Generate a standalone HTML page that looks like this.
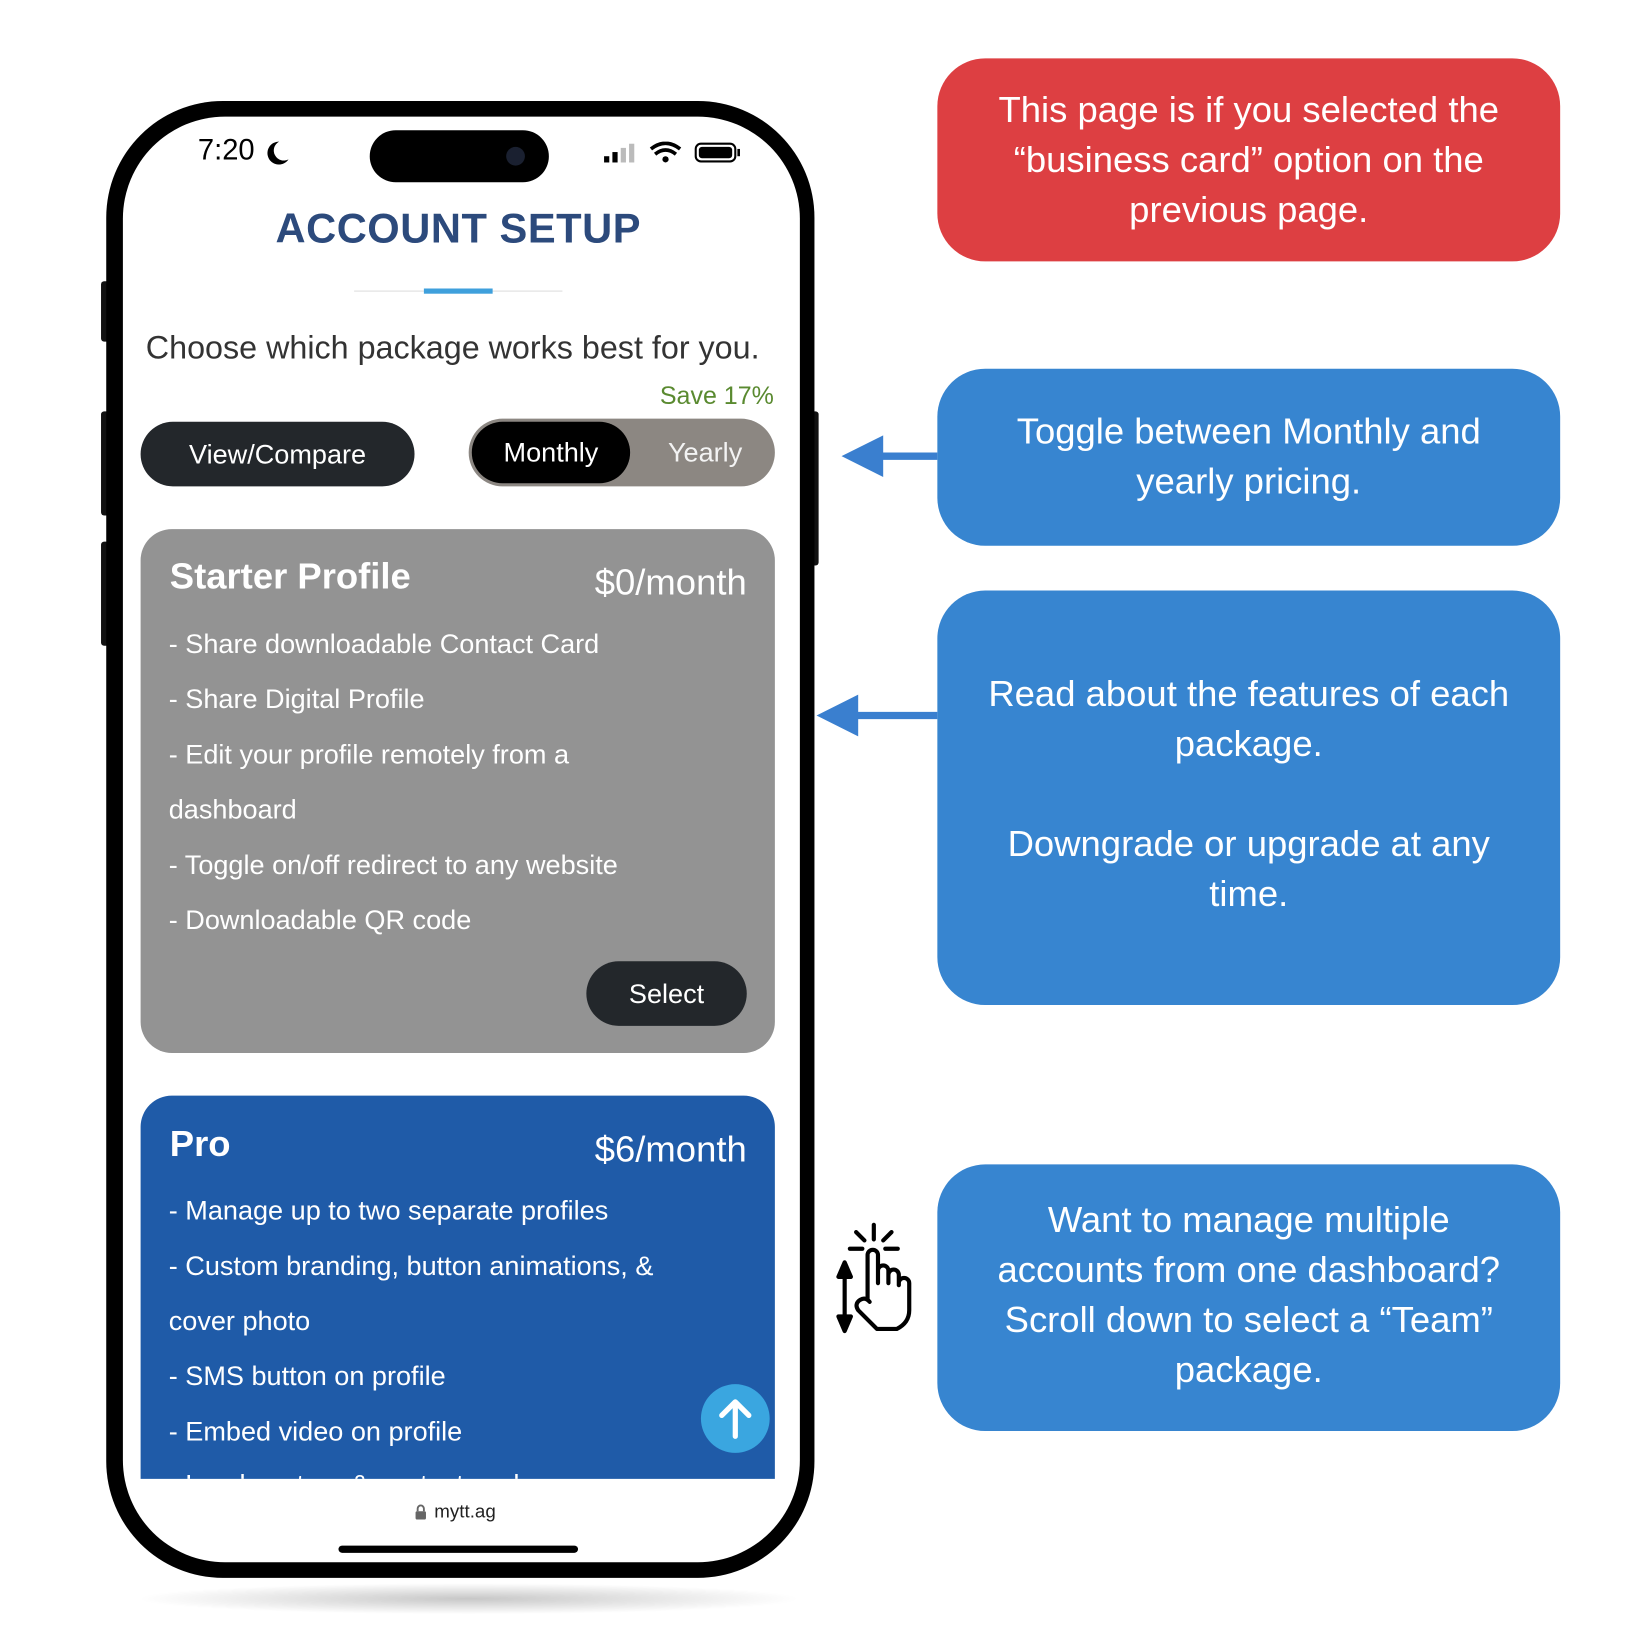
<!DOCTYPE html>
<html><head><meta charset="utf-8"><style>
html,body{margin:0;padding:0;background:#fff;}
body{width:1632px;height:1630px;overflow:hidden;position:relative;font-family:"Liberation Sans",sans-serif;}
#w{position:absolute;left:0;top:0;width:1567px;height:1565px;transform:scale(1.0415);transform-origin:0 0;}
.a{position:absolute;}
.co{position:absolute;left:900px;width:598px;border-radius:46px;color:#fff;font-size:35px;line-height:48px;text-align:center;box-sizing:border-box;}
.li{position:absolute;left:162px;color:#fff;font-size:26px;}
</style></head><body><div id="w">
<div class="a" style="left:130px;top:1520px;width:640px;height:30px;border-radius:50%;background:radial-gradient(ellipse at center,rgba(0,0,0,0.22),rgba(0,0,0,0) 70%);"></div>
<div class="a" style="left:97px;top:270px;width:8px;height:58px;background:#111;border-radius:3px"></div>
<div class="a" style="left:97px;top:395px;width:8px;height:100px;background:#111;border-radius:3px"></div>
<div class="a" style="left:97px;top:520px;width:8px;height:100px;background:#111;border-radius:3px"></div>
<div class="a" style="left:778px;top:395px;width:8px;height:148px;background:#111;border-radius:3px"></div>
<div class="a" style="left:102px;top:97px;width:680px;height:1418px;background:#000;border-radius:112px;"></div>
<div class="a" style="left:118px;top:112px;width:650px;height:1388px;background:#fff;border-radius:98px;overflow:hidden;"></div>
<div class="a" style="left:355px;top:125px;width:172px;height:50px;background:#000;border-radius:25px;"></div>
<div class="a" style="left:486px;top:141px;width:18px;height:18px;background:#1a2030;border-radius:50%;"></div>
<div class="a" style="left:190px;top:128px;font-size:28px;color:#000;">7:20</div>
<svg class="a" style="left:254px;top:134px" width="24" height="26" viewBox="0 0 24 26"><path d="M14 2 A11 11 0 1 0 23 19 A9 9 0 0 1 14 2Z" fill="#000"/></svg>
<svg class="a" style="left:578px;top:136px" width="140" height="22" viewBox="0 0 140 22">
<rect x="2" y="14" width="5" height="6" fill="#000"/><rect x="10" y="10" width="5" height="10" fill="#000"/><rect x="18" y="6" width="5" height="14" fill="#bbb"/><rect x="26" y="2" width="5" height="18" fill="#bbb"/>
<path d="M47 7 Q61 -4 75 7" stroke="#000" stroke-width="3.5" fill="none"/><path d="M51 12 Q61 4 71 12" stroke="#000" stroke-width="3.5" fill="none"/><circle cx="61" cy="17" r="3" fill="#000"/>
<rect x="90" y="2" width="38" height="17" rx="5" fill="none" stroke="#000" stroke-width="2"/><rect x="93" y="5" width="32" height="11" rx="3" fill="#000"/><rect x="130" y="7" width="2.5" height="7" fill="#000"/></svg>
<div class="a" style="left:240px;top:198px;width:400px;text-align:center;font-size:40px;font-weight:bold;color:#2c4a7c;letter-spacing:0.5px;">ACCOUNT SETUP</div>
<div class="a" style="left:340px;top:279px;width:200px;height:1px;background:#ddd;"></div>
<div class="a" style="left:407px;top:277px;width:66px;height:5px;background:#3fa0dc;"></div>
<div class="a" style="left:140px;top:316px;font-size:31px;color:#333;">Choose which package works best for you.</div>
<div class="a" style="left:600px;top:367px;width:143px;text-align:right;font-size:24px;color:#5a8a30;">Save 17%</div>
<div class="a" style="left:135px;top:405px;width:263px;height:62px;border-radius:31px;background:#23272b;color:#fff;font-size:26px;line-height:62px;text-align:center;">View/Compare</div>
<div class="a" style="left:450px;top:402px;width:294px;height:65px;border-radius:33px;background:#8c8782;"></div>
<div class="a" style="left:453px;top:405px;width:152px;height:59px;border-radius:30px;background:#000;color:#fff;font-size:26px;line-height:59px;text-align:center;">Monthly</div>
<div class="a" style="left:610px;top:405px;width:134px;line-height:59px;text-align:center;color:#f3f3f3;font-size:26px;">Yearly</div>
<div class="a" style="left:135px;top:508px;width:609px;height:503px;border-radius:30px;background:#939393;"></div>
<div class="a" style="left:163px;top:534px;font-size:35px;font-weight:bold;color:#fff;">Starter Profile</div>
<div class="a" style="left:450px;top:540px;width:267px;text-align:right;font-size:35px;color:#fff;">$0/month</div>
<div class="li" style="top:603px">- Share downloadable Contact Card</div>
<div class="li" style="top:656px">- Share Digital Profile</div>
<div class="li" style="top:709px">- Edit your profile remotely from a</div>
<div class="li" style="top:762px">dashboard</div>
<div class="li" style="top:815px">- Toggle on/off redirect to any website</div>
<div class="li" style="top:868px">- Downloadable QR code</div>
<div class="a" style="left:563px;top:923px;width:154px;height:62px;border-radius:31px;background:#23272b;color:#fff;font-size:26px;line-height:62px;text-align:center;">Select</div>
<div class="a" style="left:135px;top:1052px;width:609px;height:368px;border-radius:30px 30px 0 0;background:#1f5ba8;overflow:hidden;">
<div class="li" style="left:27px;top:358px">- Lead capture &amp; contact exchange</div></div>
<div class="a" style="left:163px;top:1079px;font-size:35px;font-weight:bold;color:#fff;">Pro</div>
<div class="a" style="left:450px;top:1084px;width:267px;text-align:right;font-size:35px;color:#fff;">$6/month</div>
<div class="li" style="top:1147px">- Manage up to two separate profiles</div>
<div class="li" style="top:1200px">- Custom branding, button animations, &amp;</div>
<div class="li" style="top:1253px">cover photo</div>
<div class="li" style="top:1306px">- SMS button on profile</div>
<div class="li" style="top:1359px">- Embed video on profile</div>
<div class="a" style="left:673px;top:1329px;width:66px;height:66px;border-radius:50%;background:#3aa6e0;"></div>
<svg class="a" style="left:673px;top:1329px" width="66" height="66" viewBox="0 0 66 66"><path d="M33 50 V18 M20 30 L33 17 L46 30" stroke="#fff" stroke-width="5" fill="none" stroke-linecap="round" stroke-linejoin="round"/></svg>
<svg class="a" style="left:398px;top:1444px" width="12" height="16" viewBox="0 0 12 16"><path d="M3 7 V4.5 a3 3 0 0 1 6 0 V7" stroke="#666" stroke-width="1.8" fill="none"/><rect x="1" y="7" width="10" height="8" rx="1.5" fill="#666"/></svg>
<div class="a" style="left:417px;top:1441px;font-size:18px;color:#222;">mytt.ag</div>
<div class="a" style="left:325px;top:1484px;width:230px;height:7px;border-radius:4px;background:#000;"></div>
<div class="co" style="top:56px;height:195px;background:#dd3f42;padding-top:26px;">This page is if you selected the<br>“business card” option on the<br>previous page.</div>
<div class="co" style="top:354px;height:170px;background:#3785d0;padding-top:37px;">Toggle between Monthly and<br>yearly pricing.</div>
<div class="co" style="top:567px;height:398px;background:#3785d0;padding-top:76px;">Read about the features of each<br>package.<br><br>Downgrade or upgrade at any<br>time.</div>
<div class="co" style="top:1118px;height:256px;background:#3785d0;padding-top:30px;">Want to manage multiple<br>accounts from one dashboard?<br>Scroll down to select a “Team”<br>package.</div>
<svg class="a" style="left:780px;top:400px" width="125" height="320" viewBox="0 0 125 320">
<line x1="60" y1="38" x2="120" y2="38" stroke="#3a7fcf" stroke-width="7"/>
<polygon points="28,38 68,18 68,58" fill="#3a7fcf"/>
<line x1="36" y1="287" x2="120" y2="287" stroke="#3a7fcf" stroke-width="7"/>
<polygon points="4,287 44,267 44,307" fill="#3a7fcf"/>
</svg>
<svg class="a" style="left:800px;top:1172px" width="86" height="112" viewBox="0 0 86 112" fill="none" stroke="#000" stroke-width="4" stroke-linecap="round" stroke-linejoin="round">
<line x1="39" y1="4" x2="39" y2="18"/><line x1="22" y1="11" x2="30" y2="19"/><line x1="56" y1="11" x2="48" y2="19"/><line x1="16" y1="27" x2="28" y2="27"/><line x1="50" y1="27" x2="62" y2="27"/>
<line x1="11" y1="50" x2="11" y2="96"/><polygon points="11,40 5,54 17,54" fill="#000"/><polygon points="11,106 5,92 17,92" fill="#000"/>
<path d="M33 76 V33 a5 5 0 0 1 10 0 V60 M43 55 V48 a5 5 0 0 1 10 0 V60 M53 55 V52 a5 5 0 0 1 10 0 V62 M63 60 a5 5 0 0 1 10 0 V86 q0 12 -12 18 H42 L24 86 q-4 -6 2 -10 q5 -3 9 2"/>
</svg>
</div></body></html>
